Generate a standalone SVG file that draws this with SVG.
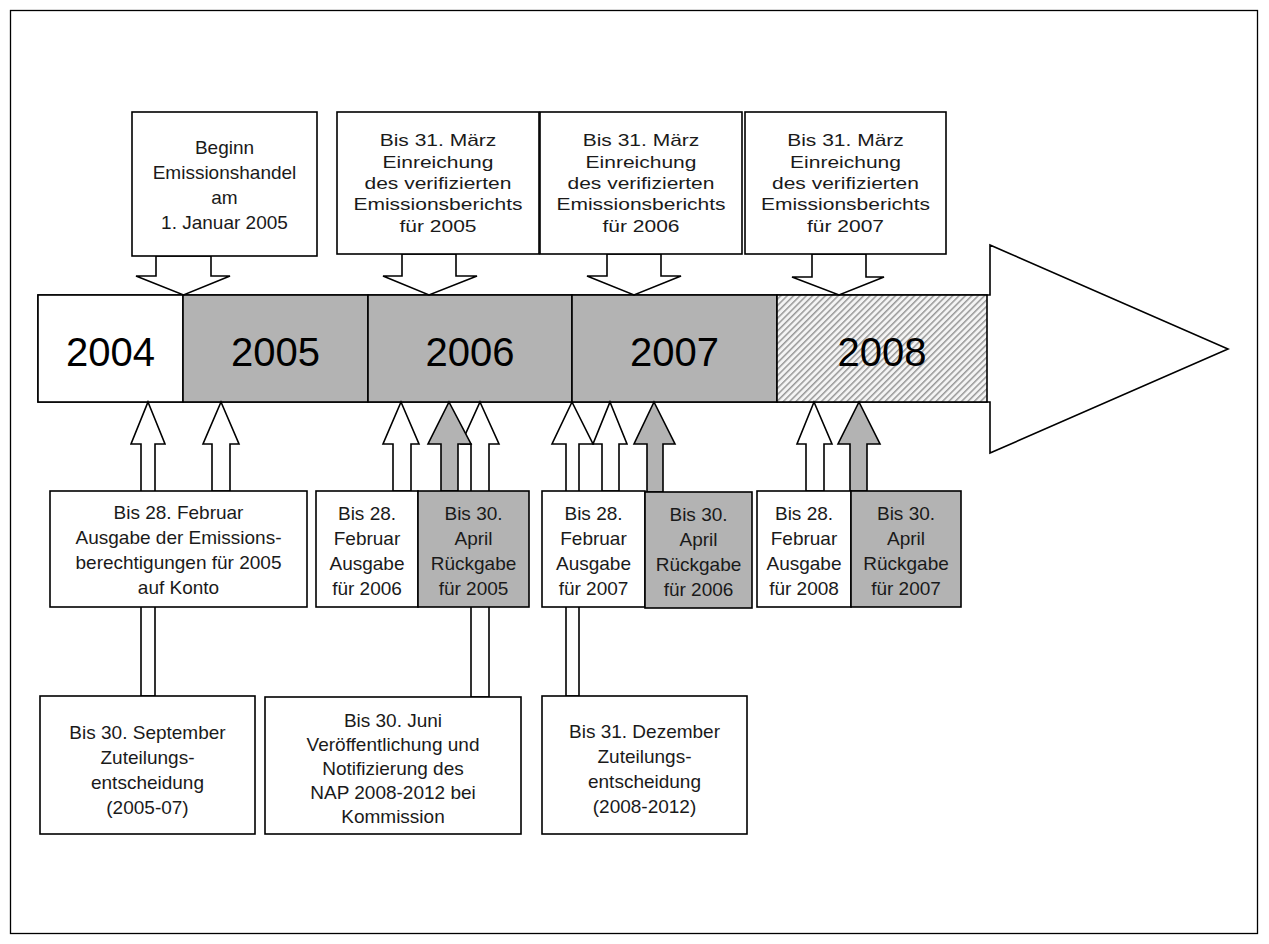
<svg xmlns="http://www.w3.org/2000/svg" width="1269" height="944" viewBox="0 0 1269 944">
<defs>
<pattern id="hatch" width="4.5" height="4.5" patternUnits="userSpaceOnUse" patternTransform="rotate(45)">
<rect width="4.5" height="4.5" fill="#f4f4f4"/>
<line x1="0.75" y1="0" x2="0.75" y2="4.5" stroke="#8a8a8a" stroke-width="1.3"/>
</pattern>
</defs>
<style>
.bx{fill:#fff;stroke:#000;stroke-width:1.6}
.gr{fill:#b3b3b3;stroke:#000;stroke-width:1.6}
.ar{fill:#fff;stroke:#000;stroke-width:1.6;stroke-linejoin:miter}
.arg{fill:#b3b3b3;stroke:#000;stroke-width:1.6;stroke-linejoin:miter}
.t{font-family:"Liberation Sans",Arial,sans-serif;font-size:19px;fill:#1a1a1a;text-anchor:middle}
.tw{font-family:"Liberation Sans",Arial,sans-serif;font-size:21px;fill:#1a1a1a;text-anchor:middle}
.y{font-family:"Liberation Sans",Arial,sans-serif;font-size:40px;fill:#000;text-anchor:middle}
</style>
<rect x="10.5" y="10.5" width="1247" height="923" fill="#fff" stroke="#000" stroke-width="1.3"/>

<g id="timeline">
<path d="M38,295 H990 V245 L1228,349 L990,453 V402 H38 Z" fill="#fff" stroke="#000" stroke-width="1.6"/>
<rect x="38" y="295" width="145" height="107" class="bx"/>
<rect x="183" y="295" width="185" height="107" class="gr"/>
<rect x="368" y="295" width="204" height="107" class="gr"/>
<rect x="572" y="295" width="205" height="107" class="gr"/>
<rect x="777" y="295" width="210" height="107" fill="url(#hatch)" stroke="#000" stroke-width="1.6"/>
<text x="110.5" y="366" class="y">2004</text>
<text x="275.5" y="366" class="y">2005</text>
<text x="470" y="366" class="y">2006</text>
<text x="674.5" y="366" class="y">2007</text>
<text x="882" y="366" class="y">2008</text>
</g>

<g id="connectors">
<polygon class="ar" points="156,256 211,256 211,276 230,276 183.5,295 136,276 156,276"/>
<polygon class="ar" points="402,254 456,254 456,276 477,276 429,295 383,276 402,276"/>
<polygon class="ar" points="607,254 661,254 661,276 681,276 634,295 587,276 607,276"/>
<polygon class="ar" points="812,254 866,254 866,277 884,277 839,295 792,277 812,277"/>

<polygon class="ar" points="148,402 165,444 155,444 155,696 141,696 141,444 131,444"/>
<polygon class="ar" points="221,402 239,444 230,444 230,491 212,491 212,444 203,444"/>
<polygon class="ar" points="401,402 419,444 411,444 411,491 393,491 393,444 383,444"/>
<polygon class="ar" points="480,402 499,444 489,444 489,697 471,697 471,444 461,444"/>
<polygon class="arg" points="449,402 471,444 458,444 458,491 441,491 441,444 428,444"/>
<polygon class="ar" points="572,402 593,444 579,444 579,696 566,696 566,444 552,444"/>
<polygon class="ar" points="610,402 627,444 619,444 619,491 602,491 602,444 593,444"/>
<polygon class="arg" points="654,402 675,444 663,444 663,492 647,492 647,444 634,444"/>
<polygon class="ar" points="814,402 832,444 824,444 824,491 806,491 806,444 797,444"/>
<polygon class="arg" points="859,402 880,444 867,444 867,491 850,491 850,444 838,444"/>
</g>

<g id="top1">
<rect x="132" y="112" width="185" height="144" class="bx"/>
<text class="t" x="224.5" y="154">Beginn</text>
<text class="t" x="224.5" y="179">Emissionshandel</text>
<text class="t" x="224.5" y="204">am</text>
<text class="t" x="224.5" y="229">1. Januar 2005</text>
</g>
<g id="top2">
<rect x="337" y="112" width="202" height="142" class="bx"/>
<g transform="translate(0,146) scale(1,0.8)">
<text class="tw" x="438" y="0">Bis 31. März</text>
<text class="tw" x="438" y="26.9">Einreichung</text>
<text class="tw" x="438" y="53.8">des verifizierten</text>
<text class="tw" x="438" y="80.6">Emissionsberichts</text>
<text class="tw" x="438" y="107.5">für 2005</text>
</g>
</g>
<g id="top3">
<rect x="540" y="112" width="202" height="142" class="bx"/>
<g transform="translate(0,146) scale(1,0.8)">
<text class="tw" x="641" y="0">Bis 31. März</text>
<text class="tw" x="641" y="26.9">Einreichung</text>
<text class="tw" x="641" y="53.8">des verifizierten</text>
<text class="tw" x="641" y="80.6">Emissionsberichts</text>
<text class="tw" x="641" y="107.5">für 2006</text>
</g>
</g>
<g id="top4">
<rect x="745" y="112" width="201" height="142" class="bx"/>
<g transform="translate(0,146) scale(1,0.8)">
<text class="tw" x="845.5" y="0">Bis 31. März</text>
<text class="tw" x="845.5" y="26.9">Einreichung</text>
<text class="tw" x="845.5" y="53.8">des verifizierten</text>
<text class="tw" x="845.5" y="80.6">Emissionsberichts</text>
<text class="tw" x="845.5" y="107.5">für 2007</text>
</g>
</g>

<g id="ausgabe2005">
<rect x="50" y="491" width="257" height="116" class="bx"/>
<text class="t" x="178.5" y="519">Bis 28. Februar</text>
<text class="t" x="178.5" y="544">Ausgabe der Emissions-</text>
<text class="t" x="178.5" y="569">berechtigungen für 2005</text>
<text class="t" x="178.5" y="594">auf Konto</text>
</g>
<g id="ausgabe2006">
<rect x="316" y="491" width="102" height="116" class="bx"/>
<text class="t" x="367" y="520">Bis 28.</text>
<text class="t" x="367" y="545">Februar</text>
<text class="t" x="367" y="570">Ausgabe</text>
<text class="t" x="367" y="595">für 2006</text>
</g>
<g id="rueckgabe2005">
<rect x="418" y="491" width="111" height="116" class="gr"/>
<text class="t" x="473.5" y="520">Bis 30.</text>
<text class="t" x="473.5" y="545">April</text>
<text class="t" x="473.5" y="570">Rückgabe</text>
<text class="t" x="473.5" y="595">für 2005</text>
</g>
<g id="ausgabe2007">
<rect x="542" y="491" width="103" height="116" class="bx"/>
<text class="t" x="593.5" y="520">Bis 28.</text>
<text class="t" x="593.5" y="545">Februar</text>
<text class="t" x="593.5" y="570">Ausgabe</text>
<text class="t" x="593.5" y="595">für 2007</text>
</g>
<g id="rueckgabe2006">
<rect x="645" y="492" width="107" height="116" class="gr"/>
<text class="t" x="698.5" y="521">Bis 30.</text>
<text class="t" x="698.5" y="546">April</text>
<text class="t" x="698.5" y="571">Rückgabe</text>
<text class="t" x="698.5" y="596">für 2006</text>
</g>
<g id="ausgabe2008">
<rect x="757" y="491" width="94" height="116" class="bx"/>
<text class="t" x="804" y="520">Bis 28.</text>
<text class="t" x="804" y="545">Februar</text>
<text class="t" x="804" y="570">Ausgabe</text>
<text class="t" x="804" y="595">für 2008</text>
</g>
<g id="rueckgabe2007">
<rect x="851" y="491" width="110" height="116" class="gr"/>
<text class="t" x="906" y="520">Bis 30.</text>
<text class="t" x="906" y="545">April</text>
<text class="t" x="906" y="570">Rückgabe</text>
<text class="t" x="906" y="595">für 2007</text>
</g>

<g id="zuteilung0507">
<rect x="40" y="696" width="215" height="138" class="bx"/>
<text class="t" x="147.5" y="739">Bis 30. September</text>
<text class="t" x="147.5" y="764">Zuteilungs-</text>
<text class="t" x="147.5" y="789">entscheidung</text>
<text class="t" x="147.5" y="814">(2005-07)</text>
</g>
<g id="nap">
<rect x="265" y="697" width="256" height="137" class="bx"/>
<text class="t" x="393" y="727">Bis 30. Juni</text>
<text class="t" x="393" y="751">Veröffentlichung und</text>
<text class="t" x="393" y="775">Notifizierung des</text>
<text class="t" x="393" y="799">NAP 2008-2012 bei</text>
<text class="t" x="393" y="823">Kommission</text>
</g>
<g id="zuteilung0812">
<rect x="542" y="696" width="205" height="138" class="bx"/>
<text class="t" x="644.5" y="738">Bis 31. Dezember</text>
<text class="t" x="644.5" y="763">Zuteilungs-</text>
<text class="t" x="644.5" y="788">entscheidung</text>
<text class="t" x="644.5" y="813">(2008-2012)</text>
</g>
</svg>
